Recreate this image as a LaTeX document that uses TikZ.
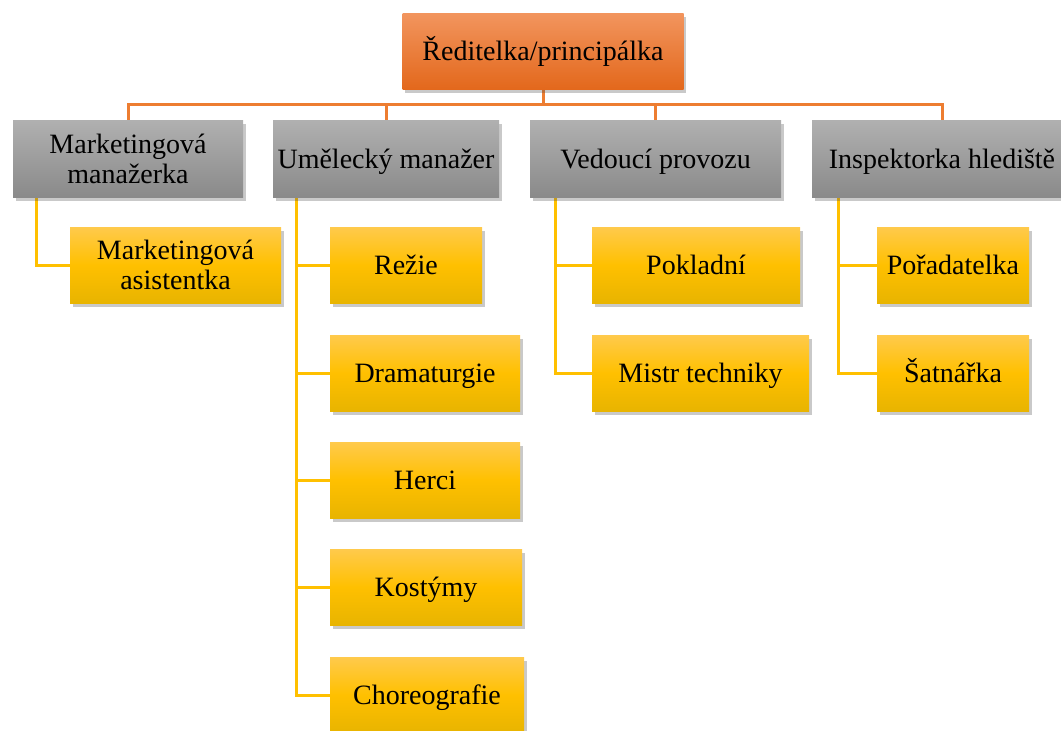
\documentclass[tikz,border=0pt]{standalone}
\usepackage{fontspec}
\setmainfont{Liberation Serif}
\usetikzlibrary{shadows,backgrounds}
\definecolor{lineor}{HTML}{ED7D31}
\definecolor{lineye}{HTML}{FFC000}
\definecolor{orTop}{HTML}{F2955E}
\definecolor{orBot}{HTML}{E3681C}
\definecolor{grTop}{HTML}{B0B0B0}
\definecolor{grBot}{HTML}{8A8A8A}
\definecolor{yeTop}{HTML}{FFCA4C}
\definecolor{yeMid}{HTML}{FFC000}
\definecolor{yeBot}{HTML}{E8B400}
\begin{document}
\begin{tikzpicture}[x=1pt,y=-1pt,
  box/.style={rectangle, inner sep=0pt, align=center,
    font=\rmfamily\fontsize{28}{30}\selectfont, text=black,
    drop shadow={shadow xshift=2.5pt, shadow yshift=-3.5pt, opacity=0.3, fill=black!70}},
  oneline/.style={text height=25pt, text depth=6pt},
  topbox/.style={box, oneline, top color=orTop, bottom color=orBot, minimum width=281pt, minimum height=76pt},
  graybox/.style={box, top color=grTop, bottom color=grBot, minimum height=77pt},
  yelbox/.style={box, top color=yeTop, bottom color=yeBot, middle color=yeMid, minimum height=76pt},
  orline/.style={draw=lineor, line width=3pt},
  yeline/.style={draw=lineye, line width=3pt}]
\useasboundingbox (0,0) rectangle (1061,731);

\node[topbox] (dir) at (543,51) {Ředitelka/principálka};

\node[graybox, minimum width=230pt] (m1) at (128,158.5) {Marketingová\\manažerka};
\node[graybox, oneline, minimum width=226pt] (m2) at (386,158.5) {Umělecký manažer};
\node[graybox, oneline, minimum width=251pt] (m3) at (655.5,158.5) {Vedoucí provozu};
\node[graybox, oneline, minimum width=260pt] (m4) at (942,158.5) {Inspektorka hlediště};

\node[yelbox, minimum width=211pt] (ma) at (175.5,265) {Marketingová\\asistentka};
\node[yelbox, oneline, minimum width=152pt] (rez) at (406,265) {Režie};
\node[yelbox, oneline, minimum width=190pt] (dra) at (425,373) {Dramaturgie};
\node[yelbox, oneline, minimum width=190pt] (her) at (425,480) {Herci};
\node[yelbox, oneline, minimum width=192pt] (kos) at (426,587) {Kostýmy};
\node[yelbox, oneline, minimum width=194pt] (cho) at (427,695) {Choreografie};
\node[yelbox, oneline, minimum width=208pt] (pok) at (696,265) {Pokladní};
\node[yelbox, oneline, minimum width=217pt] (mis) at (700.5,373) {Mistr techniky};
\node[yelbox, oneline, minimum width=152pt] (por) at (953,265) {Pořadatelka};
\node[yelbox, oneline, minimum width=152pt] (sat) at (953,373) {Šatnářka};

\coordinate (bus) at (0,104);
\coordinate (s1) at (36,197);
\coordinate (s2) at (296,197);
\coordinate (s3) at (555,197);
\coordinate (s4) at (838,197);

\begin{scope}[on background layer]
  \draw[orline] (dir.south) -- (dir.south |- bus);
  \draw[orline] (m1.north) -- (m1.north |- bus) -- (m4.north |- bus) -- (m4.north);
  \draw[orline] (m2.north) -- (m2.north |- bus);
  \draw[orline] (m3.north) -- (m3.north |- bus);

  \draw[yeline] (s1) |- (ma.west);

  \draw[yeline] (s2) |- (cho.west);
  \draw[yeline] (s2 |- rez.west) -- (rez.west);
  \draw[yeline] (s2 |- dra.west) -- (dra.west);
  \draw[yeline] (s2 |- her.west) -- (her.west);
  \draw[yeline] (s2 |- kos.west) -- (kos.west);

  \draw[yeline] (s3) |- (mis.west);
  \draw[yeline] (s3 |- pok.west) -- (pok.west);

  \draw[yeline] (s4) |- (sat.west);
  \draw[yeline] (s4 |- por.west) -- (por.west);
\end{scope}
\end{tikzpicture}
\end{document}
